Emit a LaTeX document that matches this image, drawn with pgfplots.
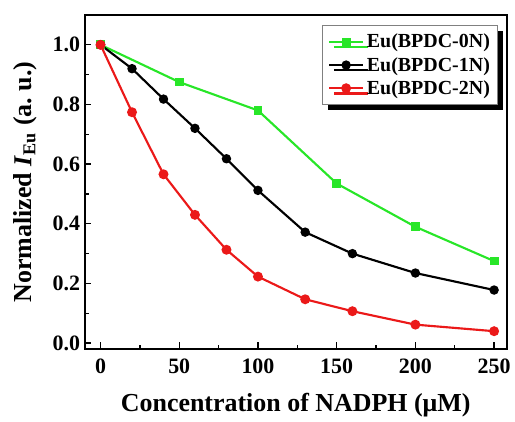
\documentclass[border=0pt]{standalone}
\usepackage{fontspec}
\setmainfont{Liberation Serif}
\usepackage{pgfplots}
\pgfplotsset{compat=1.18}
\usetikzlibrary{shadows}
\definecolor{cgreen}{RGB}{40,230,40}
\definecolor{cred}{RGB}{235,25,25}
\begin{document}
\begin{tikzpicture}
\begin{axis}[
  name=ax,
  scale only axis,
  width=317.25pt, height=251.25pt,
  xmin=-10, xmax=258,
  ymin=-0.02, ymax=1.1,
  xtick={0,50,100,150,200,250},
  ytick={0,0.2,0.4,0.6,0.8,1.0},
  minor xtick={25,75,125,175,225},
  minor ytick={0.1,0.3,0.5,0.7,0.9},
  tick align=inside,
  xtick pos=bottom, ytick pos=left,
  major tick length=5pt, minor tick length=3pt,
  tick style={line width=1pt, black},
  axis line style={line width=1.2pt},
  /pgf/number format/assume math mode=true,
  ticklabel style={font=\fontsize{16.5}{18}\selectfont\bfseries},
  yticklabel style={/pgf/number format/fixed, /pgf/number format/fixed zerofill, /pgf/number format/precision=1},
  xticklabel style={/pgf/number format/fixed, yshift=-4pt},
  xlabel={\textbf{Concentration of NADPH (μM)}},
  ylabel={\textbf{Normalized \textit{I}\textsubscript{Eu} (a.\ u.)}},
  label style={font=\fontsize{19.5}{22}\selectfont},
  xlabel style={yshift=-8pt},
  ylabel style={yshift=5pt},
  legend style={at={(0.563,0.97)}, anchor=north west, draw=gray, line width=0.6pt, fill=white,
    font=\fontsize{15}{17}\selectfont\bfseries, row sep=1.5pt, inner xsep=4pt, inner ysep=4.5pt,
    drop shadow={shadow xshift=4pt, shadow yshift=-4pt, fill=black, opacity=1}},
  legend cell align=left,
  legend image code/.code={
    \draw[mark repeat=2,mark phase=2] plot coordinates {(0cm,0cm) (0.45cm,0cm) (0.9cm,0cm)};},
]
\addplot[cgreen, line width=1.6pt, mark=square*, mark size=2.5pt, mark options={fill=cgreen}] coordinates {
 (0,1.0) (50,0.875) (100,0.78) (150,0.535) (200,0.39) (250,0.275)};
\addlegendentry{Eu(BPDC-0N)}
\addplot[black, line width=1.6pt, mark=*, mark size=2.7pt] coordinates {
 (0,1.0) (20,0.92) (40,0.818) (60,0.72) (80,0.618) (100,0.512) (130,0.372) (160,0.30) (200,0.235) (250,0.178)};
\addlegendentry{Eu(BPDC-1N)}
\addplot[cred, line width=1.6pt, mark=*, mark size=2.9pt, mark options={fill=cred}] coordinates {
 (0,1.0) (20,0.774) (40,0.566) (60,0.43) (80,0.313) (100,0.223) (130,0.147) (160,0.107) (200,0.062) (250,0.04)};
\addlegendentry{Eu(BPDC-2N)}
\end{axis}
\path[use as bounding box] ([xshift=-63.75pt,yshift=-54.75pt]ax.south west) rectangle ([xshift=5.25pt,yshift=11.25pt]ax.north east);
\end{tikzpicture}
\end{document}
